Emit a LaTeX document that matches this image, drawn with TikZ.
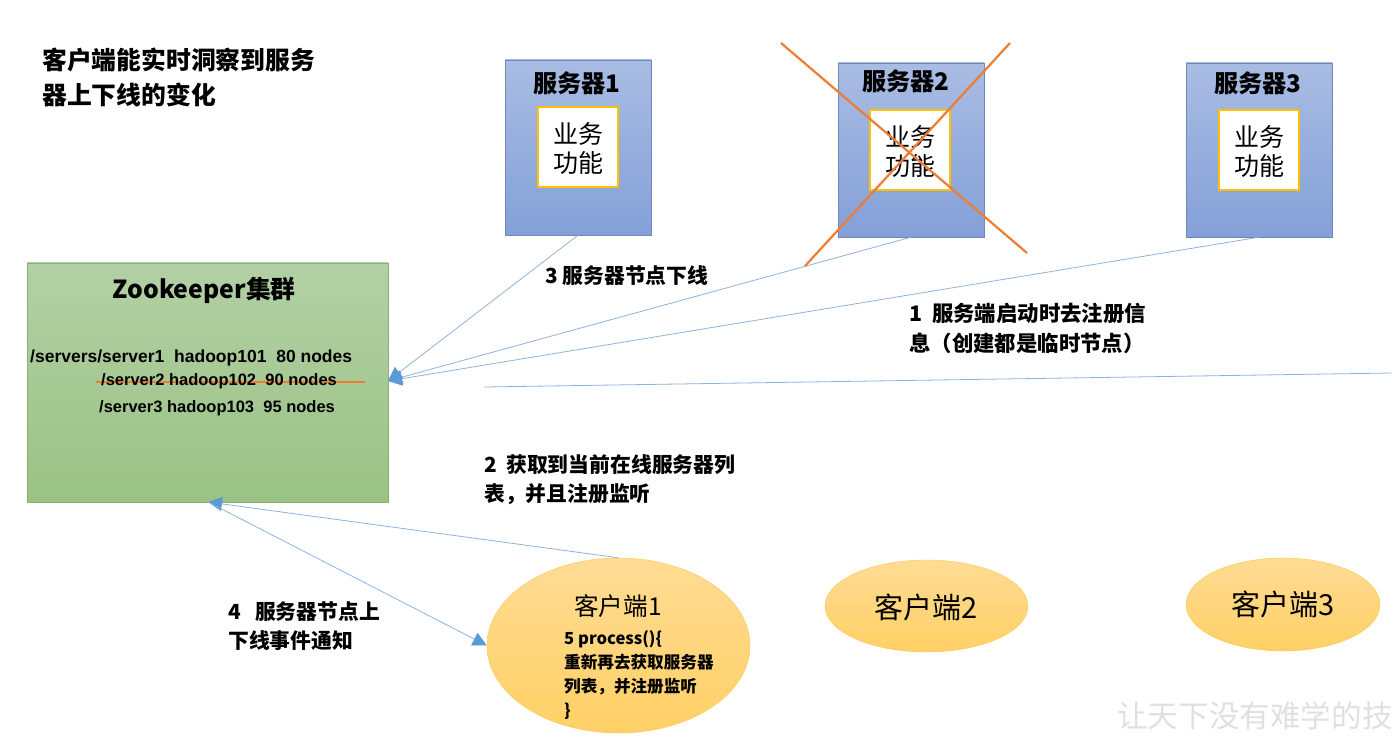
\documentclass[tikz,border=0pt]{standalone}
\usepackage{fontspec}
\setmainfont{Noto Sans CJK SC}
\newfontfamily\pathfont{Liberation Sans}
\usetikzlibrary{positioning,shapes.geometric,arrows.meta}
\definecolor{linkblue}{HTML}{8FB2DC}
\definecolor{tipblue}{HTML}{5B9BD5}
\definecolor{crossorange}{HTML}{ED7D31}
\tikzset{
  serverbox/.style={draw=#1!85!black, rectangle, minimum width=146pt, inner sep=0pt},
  server/.style={serverbox=srvbot, top color=srvtop, bottom color=srvbot, minimum height=175pt},
  func/.style={draw=funcline, line width=2.6pt, fill=white, minimum width=80pt, minimum height=80pt, inner sep=0pt},
  functext/.style={align=center, inner sep=0pt, font=\fontsize{25}{29}\selectfont},
  client/.style={ellipse, draw=cliline, top color=clitop, bottom color=clibot, inner sep=0pt},
  head/.style={font=\fontsize{24.2}{29}\bfseries\selectfont, inner sep=0pt},
  note/.style={font=\fontsize{20.8}{29.5}\bfseries\selectfont, inner sep=0pt, align=left, anchor=north west},
  znode/.style={font=\fontsize{16.5}{20}\bfseries\pathfont, inner sep=0pt, anchor=west},
  link/.style={draw=linkblue, line width=.8pt},
  tip/.style={-{Triangle[length=14pt,width=14pt,color=tipblue]}},
  cross/.style={draw=crossorange, line width=2.2pt}
}
\definecolor{srvtop}{HTML}{A9BCE3}
\definecolor{srvbot}{HTML}{84A0D8}
\definecolor{funcline}{HTML}{FFC000}
\definecolor{zktop}{HTML}{B3D0A5}
\definecolor{zkbot}{HTML}{9AC285}
\definecolor{clitop}{HTML}{FFDC95}
\definecolor{clibot}{HTML}{FFD065}
\definecolor{cliline}{HTML}{FFC74F}
\begin{document}
\begin{tikzpicture}[x=1pt,y=-1pt]
  \useasboundingbox (0,0) rectangle (1397,743);

  \node[note, font=\fontsize{24.8}{35}\bfseries\selectfont] (title) at (42,48) {客户端能实时洞察到服务\\器上下线的变化};

  \node[server] (server1) at (578,147.5) {};
  \node[server, minimum height=174pt] (server2) at (911,150) {};
  \node[server, minimum height=174pt] (server3) at (1259,150) {};
  \node[head] (head1) at (577,83) {服务器1};
  \node[head] (head2) at (906,81) {服务器2};
  \node[head] (head3) at (1258,83) {服务器3};
  \node[func] (func1) at (578,147) {};
  \node[func] (func2) at (910,150) {};
  \node[func] (func3) at (1259,150) {};
  \node[functext] (text1) at (578,149) {业务\\功能};
  \node[functext] (text2) at (910,152) {业务\\功能};
  \node[functext] (text3) at (1259,152) {业务\\功能};

  \node[rectangle, draw=zkbot!90!black, top color=zktop, bottom color=zkbot, minimum width=361pt, minimum height=239pt, inner sep=0pt] (zk) at (207.5,382.5) {};
  \draw[draw=crossorange, line width=1.6pt] (96,382) -- (365,382);
  \node[font=\fontsize{24.8}{30}\bfseries\selectfont, inner sep=0pt] (zkhead) at (204,290) {Zookeeper集群};
  \node[znode, font=\fontsize{17.5}{20}\bfseries\pathfont] (path1) at (30,358) {/servers/server1\ \ hadoop101\ \ 80 nodes};
  \node[znode] (path2) at (101,381) {/server2 hadoop102\ \ 90 nodes};
  \node[znode] (path3) at (99,408) {/server3 hadoop103\ \ 95 nodes};

  \node[client, minimum width=263pt, minimum height=175pt] (client1) at (618.5,645.5) {};
  \node[client, minimum width=203pt, minimum height=92pt] (client2) at (926.5,606) {};
  \node[client, minimum width=194pt, minimum height=93pt] (client3) at (1283,604.5) {};
  \node[font=\fontsize{24.6}{29}\selectfont, inner sep=0pt] (clihead1) at (618,606) {客户端1};
  \node[font=\fontsize{29}{33}\selectfont, inner sep=0pt] (clihead2) at (926,607) {客户端2};
  \node[font=\fontsize{29}{33}\selectfont, inner sep=0pt] (clihead3) at (1283,604) {客户端3};
  \node[note, font=\fontsize{16.6}{24}\bfseries\selectfont] (process) at (564,630.5) {5 process()\{\\重新再去获取服务器\\列表，并注册监听\\\}};

  \node[note] (note3) at (545,265) {3 服务器节点下线};
  \node[note, font=\fontsize{21.4}{29.5}\bfseries\selectfont] (note1) at (909,303) {1\ \ 服务端启动时去注册信\\息（创建都是临时节点）};
  \node[note] (note2) at (484,454) {2\ \ 获取到当前在线服务器列\\表，并且注册监听};
  \node[note] (note4) at (228,601) {4\ \ \ 服务器节点上\\下线事件通知};

  \coordinate (zkin) at (388,381);
  \coordinate (zkout) at (208,502);
  \coordinate (listleft) at (484,387);
  \coordinate (listright) at (1392,373);
  \draw[link, tip] (server1.south) -- (zkin);
  \draw[link, tip] (server2.south) -- (zkin);
  \draw[link, tip] (server3.south) -- (zkin);
  \draw[link] (listleft) -- (listright);
  \draw[link, tip] (client1.north) -- (zkout);
  \draw[link, tip] (zkout) -- (client1.west);

  \draw[cross] (781,43) -- (1027,253);
  \draw[cross] (1010,43) -- (805,266);

  \node[font=\fontsize{30.6}{35}\selectfont, text=black!12, inner sep=0pt, anchor=west] (mark) at (1117,716) {让天下没有难学的技};
\end{tikzpicture}
\end{document}
